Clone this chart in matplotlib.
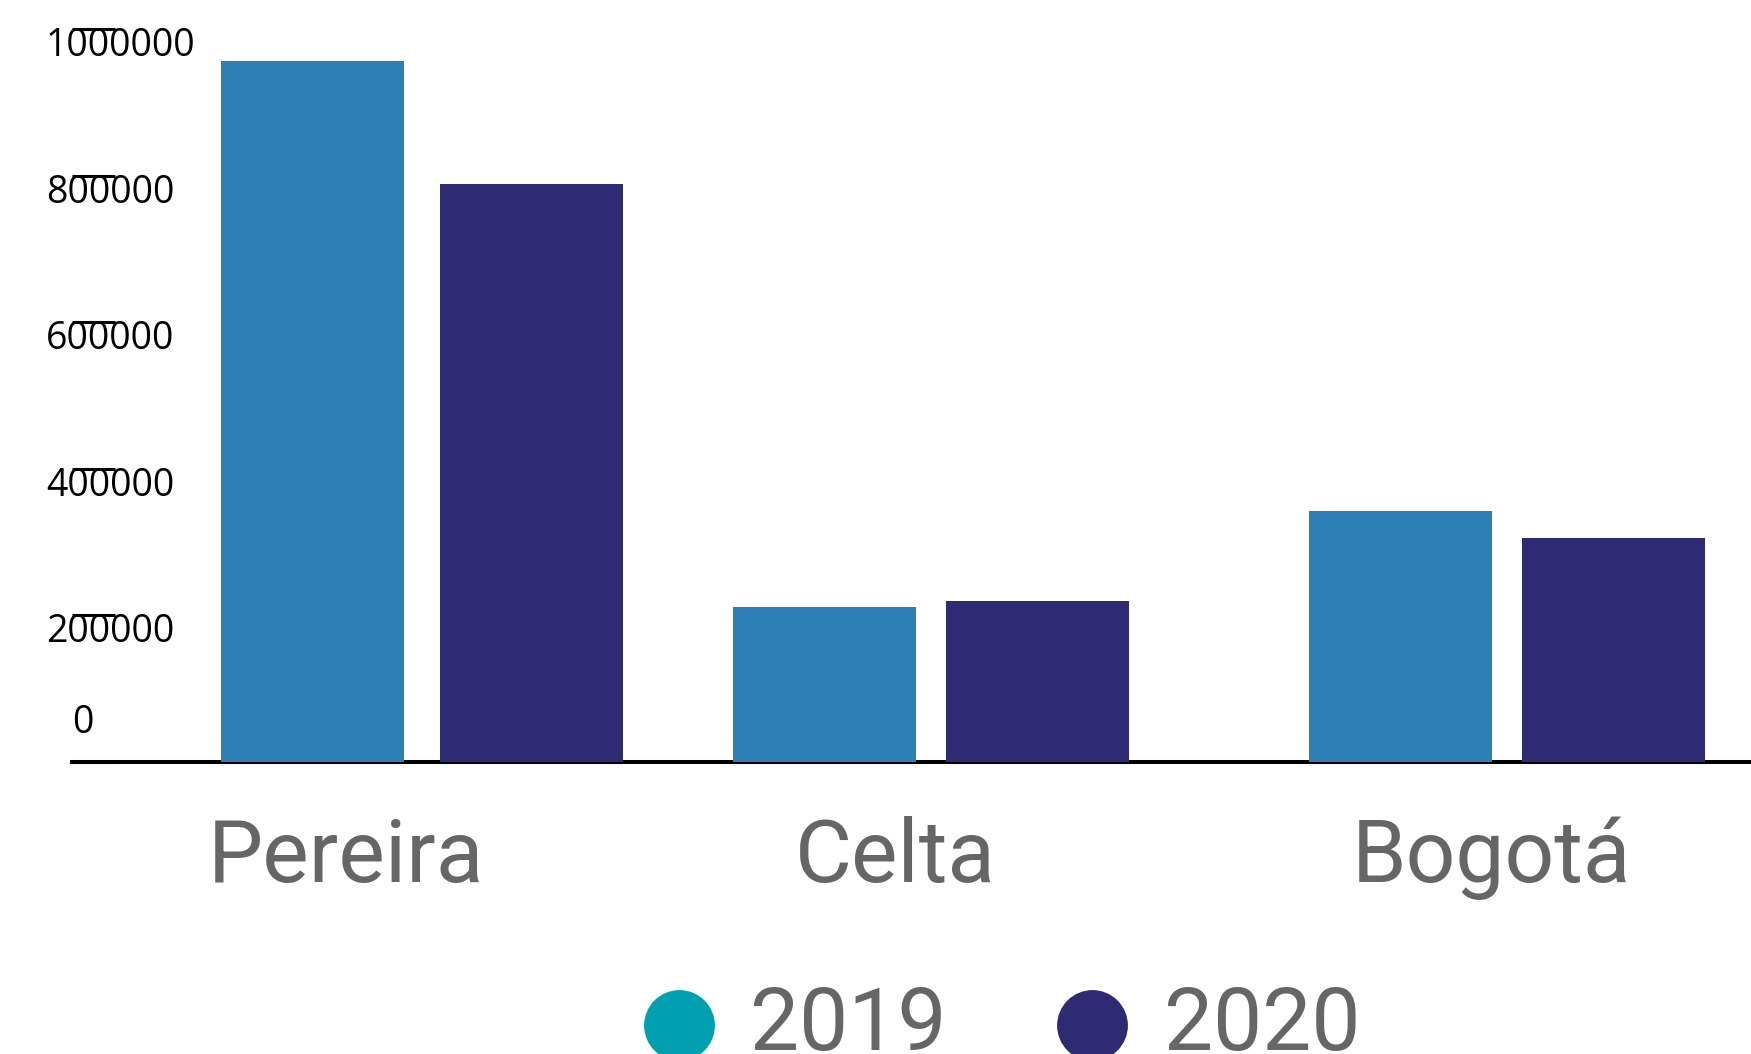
import matplotlib
matplotlib.use('Agg')
import matplotlib.pyplot as plt
import matplotlib.transforms as mtransforms

# Datos por ciudad y año
categories = ['Pereira', 'Celta', 'Bogotá']
series = ['2019', '2020']
values_2019 = [956000, 212000, 342000]
values_2020 = [788000, 219000, 305000]
yticks = [0, 200000, 400000, 600000, 800000, 1000000]

bar_colors = ['#2e7fb8', '#2e2a74']
legend_colors = ['#00a0b0', '#2e2a74']
text_gray = '#666666'

# Posiciones de los grupos (unidades del eje x)
group_x = [0.699, 1.718, 2.870]
offsets = [0.219, 0.2135, 0.2135]
label_x = [0.548, 1.646, 2.839]
width = 0.366

W, H = 1751, 1054
fig = plt.figure(figsize=(W / 100, H / 100), dpi=100)
ax = fig.add_axes([72 / W, 292 / H, 1679 / W, 733 / H])
ax.set_xlim(0, 3.358)
ax.set_ylim(0, 1000000)

ax.bar([g - o for g, o in zip(group_x, offsets)], values_2019, width=width,
       color=bar_colors[0], zorder=3)
ax.bar([g + o for g, o in zip(group_x, offsets)], values_2020, width=width,
       color=bar_colors[1], zorder=3)

for s in ['top', 'right', 'left']:
    ax.spines[s].set_visible(False)
ax.spines['bottom'].set_linewidth(2.9)
ax.spines['bottom'].set_color('black')
ax.spines['bottom'].set_zorder(2)

ax.set_xticks([])
ax.set_yticks(yticks)
ax.tick_params(axis='y', direction='in', length=31, width=2.2,
               color='black', labelleft=False)

# Etiquetas del eje y
lab_tr = mtransforms.blended_transform_factory(ax.transAxes, ax.transData)
for v in yticks:
    if v == 0:
        tr = mtransforms.offset_copy(lab_tr, fig=fig, x=0, y=29, units='dots')
    else:
        tr = mtransforms.offset_copy(lab_tr, fig=fig, x=-26, y=-27, units='dots')
    ax.text(0, v, str(v), transform=tr, ha='left', va='baseline',
            fontsize=27, family='Open Sans', color='black', clip_on=False)

# Nombres de las ciudades
cat_tr = mtransforms.blended_transform_factory(ax.transData, fig.transFigure)
for x, name in zip(label_x, categories):
    ax.text(x, (H - 882) / H, name, transform=cat_tr, ha='center',
            va='baseline', fontsize=63, family='Roboto', color=text_gray,
            clip_on=False)

# Leyenda
lg = fig.add_axes([0, 0, 1, 1])
lg.set_xlim(0, W)
lg.set_ylim(H, 0)
lg.axis('off')
lg.patch.set_alpha(0)
for cx, tx, name, col in zip([678.5, 1091.5], [750, 1164], series, legend_colors):
    lg.plot([cx], [1024.5], 'o', markersize=51, color=col,
            markeredgewidth=0, clip_on=False)
    lg.text(tx, 1050, name, ha='left', va='baseline', fontsize=63,
            family='Roboto', color=text_gray)

fig.savefig('out.png', dpi=100)
